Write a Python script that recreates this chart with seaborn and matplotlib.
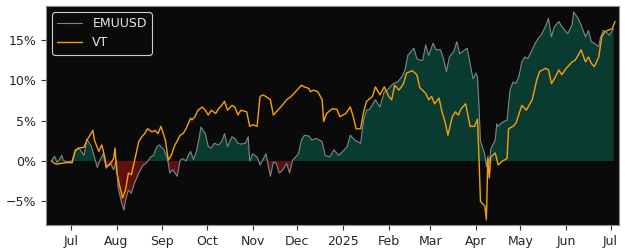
import matplotlib
matplotlib.use("Agg")
import matplotlib.pyplot as plt
import matplotlib.dates as mdates
from matplotlib.ticker import PercentFormatter, FuncFormatter
import pandas as pd
import seaborn as sns

# ---- data ----
# x values are days after 2024-07-01, y values are cumulative returns in %
emu_day = [-13, -11, -9, -6, -5, -3, 1, 3, 6, 9, 11, 14, 16, 18, 20, 22, 24, 27, 29, 31,
           32, 34, 36, 37, 39, 41, 43, 46, 49, 51, 54, 56, 58, 60, 63, 65, 66, 67, 69, 72,
           74, 76, 78, 79, 81, 83, 85, 87, 88, 91, 93, 95, 97, 100, 102, 104, 106, 109, 111, 113,
           115, 118, 120, 121, 123, 126, 128, 130, 132, 135, 137, 139, 141, 143, 146, 148, 150, 154, 156, 158,
           161, 163, 166, 170, 172, 175, 178, 181, 184, 187, 189, 192, 196, 198, 200, 202, 206, 209, 212, 214,
           218, 221, 224, 226, 228, 229, 232, 234, 236, 238, 240, 242, 245, 247, 250, 252, 254, 256, 259, 261,
           263, 265, 268, 270, 272, 274, 275, 276, 277, 280, 281, 282, 283, 284, 287, 288, 289, 291, 295, 297,
           299, 301, 303, 305, 307, 309, 312, 314, 316, 318, 321, 323, 325, 327, 330, 332, 334, 336, 339, 340,
           343, 345, 348, 350, 352, 354, 357, 358, 360, 362, 364, 367]
emu_pct = [0.0, 0.6, -0.2, 0.7, 0.1, -0.1, 0.0, 1.4, 1.5, 0.7, 2.7, 1.8, 0.5, -0.8, 0.2, 0.9, -0.9, -0.3, -1.1, 0.1,
           -3.2, -4.9, -6.1, -4.9, -3.6, -4.0, -2.8, -1.5, -0.5, -0.3, 0.5, 0.7, 1.7, 2.0, 1.4, 0.5, -0.3, -1.5, -1.1, -1.9,
           0.1, 0.3, 0.0, 0.5, 1.2, 0.2, 1.2, 3.0, 4.2, 3.4, 1.8, 1.6, 2.2, 2.0, 2.4, 3.4, 1.8, 3.0, 2.8, 2.2,
           2.1, 2.2, 3.0, 0.0, 0.9, 0.5, -0.5, 0.2, 0.9, -1.9, -0.1, -0.3, -1.5, -1.2, -0.3, -1.5, 0.1, 0.9, 2.6, 3.2,
           3.1, 2.6, 2.8, 2.4, 0.7, 0.5, 1.4, 0.7, 1.2, 1.8, 3.2, 2.6, 2.2, 5.1, 6.3, 6.4, 7.6, 6.7, 8.6, 8.8,
           9.6, 9.8, 10.5, 11.3, 13.2, 13.3, 14.0, 12.7, 12.5, 12.5, 14.4, 13.1, 14.6, 13.8, 13.8, 12.7, 11.1, 12.9, 13.6, 14.8,
           13.3, 13.6, 14.0, 12.1, 10.2, 10.9, 10.4, 7.0, 2.5, 0.8, -0.7, 0.6, -0.3, 1.5, 2.6, 4.6, 4.3, 4.7, 5.1, 8.8,
           9.8, 9.6, 10.5, 12.3, 12.9, 12.7, 13.8, 14.6, 15.2, 15.6, 16.7, 17.7, 15.4, 16.7, 17.3, 16.7, 16.2, 15.8, 16.9, 18.5,
           17.7, 16.9, 15.4, 16.2, 14.8, 14.6, 14.2, 15.2, 16.2, 16.0, 15.6, 16.4]

vt_day = [-13, -11, -9, -7, -3, 1, 3, 5, 9, 11, 13, 15, 16, 19, 21, 23, 24, 27, 29, 30,
          31, 33, 35, 37, 39, 41, 43, 46, 48, 50, 52, 55, 57, 59, 61, 64, 66, 68, 70, 74,
          76, 78, 81, 82, 84, 86, 89, 91, 93, 95, 98, 100, 102, 104, 106, 109, 111, 113, 115, 119,
          121, 123, 126, 128, 130, 132, 135, 137, 140, 143, 146, 149, 153, 156, 158, 161, 162, 164, 167, 170,
          171, 173, 177, 180, 182, 186, 189, 191, 193, 196, 198, 200, 204, 206, 209, 212, 215, 217, 219, 222,
          225, 227, 231, 234, 236, 240, 242, 244, 246, 249, 251, 253, 255, 258, 260, 262, 264, 267, 270, 273,
          275, 276, 277, 280, 281, 282, 283, 284, 287, 289, 291, 295, 296, 299, 301, 305, 308, 312, 315, 317,
          321, 323, 325, 327, 330, 332, 335, 339, 341, 343, 345, 348, 350, 352, 354, 357, 359, 361, 363, 366,
          368]
vt_pct = [0.0, -0.3, -0.4, -0.3, -0.2, -0.2, 1.2, 1.6, 1.7, 2.6, 3.2, 3.8, 2.6, 1.2, 2.0, 0.5, -0.7, -0.3, 0.3, 1.6,
          -1.3, -3.0, -4.6, -3.6, -1.5, -1.7, -0.1, 2.4, 3.0, 3.4, 4.0, 3.6, 3.8, 3.4, 4.3, 2.6, 0.1, 0.7, 1.8, 3.2,
          3.4, 4.0, 5.3, 5.1, 5.5, 6.3, 6.7, 6.3, 5.7, 6.3, 5.9, 6.5, 6.9, 7.4, 6.3, 6.9, 6.7, 5.7, 6.3, 6.1,
          4.3, 4.5, 4.3, 8.0, 8.2, 8.0, 7.6, 5.7, 6.3, 6.9, 7.6, 8.0, 8.8, 9.4, 9.2, 9.0, 8.6, 8.8, 8.6, 7.6,
          4.9, 5.9, 6.5, 6.4, 5.5, 5.9, 6.7, 5.5, 4.0, 4.0, 6.1, 7.4, 8.0, 9.2, 8.2, 9.2, 8.0, 7.6, 9.4, 8.8,
          9.6, 10.9, 11.2, 10.7, 9.1, 8.4, 7.6, 8.0, 7.1, 7.8, 6.1, 4.9, 3.2, 5.5, 6.1, 5.7, 6.5, 7.1, 4.3, 4.3,
          5.2, 0.5, -5.0, -5.6, -7.3, 0.3, -2.1, 0.5, 1.0, -0.5, -0.1, 0.3, 4.0, 4.3, 4.7, 6.9, 6.3, 7.6, 10.0, 11.1,
          11.5, 11.3, 9.6, 10.2, 11.3, 10.7, 11.5, 12.3, 12.5, 13.1, 13.8, 12.3, 12.9, 12.1, 11.7, 12.9, 15.4, 16.0, 16.2, 16.4,
          17.3]

series_names = ["EMUUSD", "VT"]
y_ticks = [-5, 0, 5, 10, 15]

# ---- styling ----
sns.set_theme(style="ticks")
plt.rcParams["font.family"] = ["DejaVu Sans"]

bg = "#0a0a0a"
green = "#0a3b31"
red = "#5c1010"
gray = "#7d8888"
orange = "#f5a00f"

start = pd.Timestamp("2024-07-01")
emu = pd.DataFrame({"date": start + pd.to_timedelta(emu_day, unit="D"), "pct": emu_pct})
vt = pd.DataFrame({"date": start + pd.to_timedelta(vt_day, unit="D"), "pct": vt_pct})

fig, ax = plt.subplots(figsize=(6.25, 2.5), dpi=100)
fig.patch.set_facecolor("white")
fig.subplots_adjust(left=0.0736, right=0.990, bottom=0.10, top=0.976)
ax.set_facecolor(bg)

ax.fill_between(emu["date"], emu["pct"], 0, where=emu["pct"] >= 0, interpolate=True,
                color=green, lw=0, zorder=1)
ax.fill_between(emu["date"], emu["pct"], 0, where=emu["pct"] <= 0, interpolate=True,
                color=red, lw=0, zorder=1)

sns.lineplot(data=emu, x="date", y="pct", ax=ax, color=gray, lw=0.8,
             label=series_names[0], zorder=3)
sns.lineplot(data=vt, x="date", y="pct", ax=ax, color=orange, lw=1.0,
             label=series_names[1], zorder=4)

ax.set_xlim(start + pd.Timedelta(days=-16.7), start + pd.Timedelta(days=370.5))
ax.set_ylim(-7.94, 19.23)
ax.set_yticks(y_ticks)
ax.yaxis.set_major_formatter(PercentFormatter(xmax=100, decimals=0))

ax.xaxis.set_major_locator(mdates.MonthLocator())


def month_label(x, pos=None):
    d = mdates.num2date(x)
    return str(d.year) if d.month == 1 else d.strftime("%b")


ax.xaxis.set_major_formatter(FuncFormatter(month_label))
ax.set_xlabel("")
ax.set_ylabel("")
ax.tick_params(labelsize=9, length=3.5, width=0.8, color="#333333", labelcolor="#262626")
for sp in ax.spines.values():
    sp.set_color("#8a8a8a")
    sp.set_linewidth(0.8)

leg = ax.legend(loc="upper left", facecolor=bg, edgecolor="#cfcfcf", labelcolor="#e6e6e6",
                fontsize=9, framealpha=1.0, fancybox=True)
leg.get_frame().set_linewidth(0.8)

fig.savefig("out.png", dpi=100, facecolor="white")
